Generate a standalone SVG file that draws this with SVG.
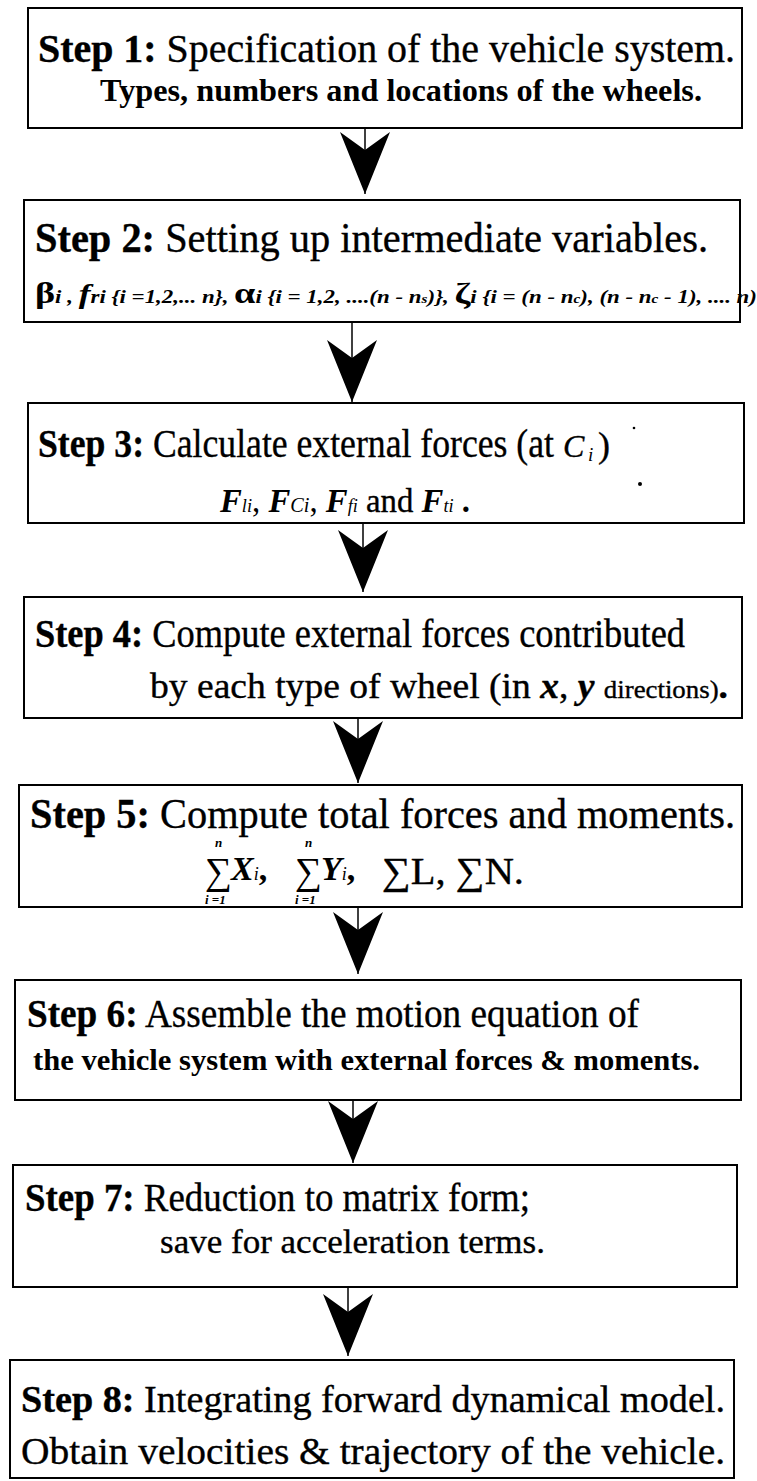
<svg xmlns="http://www.w3.org/2000/svg" width="757" height="1481" viewBox="0 0 757 1481">
<style>
.box{fill:#fff;stroke:#000;stroke-width:2}
text{font-family:"Liberation Serif","Times New Roman",Times,serif;fill:#000}
.b{font-weight:bold}
.it{font-style:italic}
.th{stroke:#000;stroke-width:0.35}
.conn line{stroke:#000;stroke-width:1.5}
</style>
<defs>
<marker id="ah" viewBox="-64 -27 66 54" markerWidth="66" markerHeight="54" refX="0" refY="0" markerUnits="userSpaceOnUse" orient="auto">
<path d="M0,0 L-62,-25 L-44,0 L-62,25 Z" fill="#000"/>
</marker>
</defs>
<rect width="757" height="1481" fill="#fff"/>

<g id="step1">
<rect class="box" x="28" y="8" width="714" height="120"/>
<text x="38" y="62" font-size="41" textLength="697" lengthAdjust="spacingAndGlyphs" class="th"><tspan class="b">Step 1:</tspan> Specification of the vehicle system.</text>
<text x="100" y="101" font-size="31" class="b" textLength="602" lengthAdjust="spacingAndGlyphs">Types, numbers and locations of the wheels.</text>
</g>

<g id="step2">
<rect class="box" x="24" y="200" width="716" height="122"/>
<text x="35" y="252" font-size="42" textLength="673" lengthAdjust="spacingAndGlyphs" class="th"><tspan class="b">Step 2:</tspan> Setting up intermediate variables.</text>
<text x="35" y="303" font-size="18" class="it b" textLength="722" lengthAdjust="spacingAndGlyphs"><tspan font-size="30" font-style="normal">β</tspan><tspan>i ,</tspan> <tspan font-size="28">f</tspan><tspan>ri {i =1,2,... n},</tspan> <tspan font-size="30" font-style="normal">α</tspan><tspan>i {i = 1,2, ....(n - n</tspan><tspan font-size="12">s</tspan><tspan>)},</tspan> <tspan font-size="30" font-style="normal">ζ</tspan><tspan>i {i = (n - n</tspan><tspan font-size="12">c</tspan><tspan>), (n - n</tspan><tspan font-size="12">c</tspan><tspan> - 1), .... n)</tspan></text>
</g>

<g id="step3">
<rect class="box" x="28" y="403" width="716" height="120"/>
<text x="38" y="457" font-size="40" textLength="516" lengthAdjust="spacingAndGlyphs" class="th"><tspan class="b">Step 3:</tspan> Calculate external forces (at</text>
<text x="563" y="457" font-size="32" class="it th">C</text>
<text x="588" y="461" font-size="19" class="it">i</text>
<text x="598" y="457" font-size="36" class="th">)</text>
<text x="220" y="512" font-size="34" textLength="250" lengthAdjust="spacingAndGlyphs"><tspan class="it b">F</tspan><tspan class="it" font-size="19">li</tspan>, <tspan class="it b">F</tspan><tspan class="it" font-size="21">Ci</tspan>, <tspan class="it b">F</tspan><tspan class="it" font-size="19">fi</tspan> <tspan class="th">and</tspan> <tspan class="it b">F</tspan><tspan class="it" font-size="19">ti</tspan> <tspan class="b">.</tspan></text>
<circle cx="634" cy="428" r="1.3" fill="#000"/>
<circle cx="640" cy="484" r="2" fill="#000"/>
</g>

<g id="step4">
<rect class="box" x="24" y="597" width="718" height="121"/>
<text x="35" y="647" font-size="39" textLength="650" lengthAdjust="spacingAndGlyphs" class="th"><tspan class="b">Step 4:</tspan> Compute external forces contributed</text>
<text x="150" y="698" font-size="35" textLength="578" lengthAdjust="spacingAndGlyphs" class="th">by each type of wheel (in <tspan class="it b">x</tspan>, <tspan class="it b">y</tspan> <tspan font-size="25">directions)</tspan><tspan class="b">.</tspan></text>
</g>

<g id="step5">
<rect class="box" x="19" y="785" width="723" height="122"/>
<text x="30" y="828" font-size="42" textLength="705" lengthAdjust="spacingAndGlyphs" class="th"><tspan class="b">Step 5:</tspan> Compute total forces and moments.</text>
<text x="215" y="847" font-size="13" class="it b">n</text>
<text x="205" y="884" font-size="38">∑</text>
<text x="205" y="904" font-size="13" class="it b">i =1</text>
<text x="231" y="880" font-size="34" class="it b">X<tspan font-size="18" font-weight="normal">i</tspan><tspan font-style="normal">,</tspan></text>
<text x="305" y="847" font-size="13" class="it b">n</text>
<text x="295" y="884" font-size="38">∑</text>
<text x="295" y="904" font-size="13" class="it b">i =1</text>
<text x="321" y="880" font-size="34" class="it b">Y<tspan font-size="18" font-weight="normal">i</tspan><tspan font-style="normal">,</tspan></text>
<text x="382" y="884" font-size="38" textLength="142" lengthAdjust="spacingAndGlyphs" class="th">∑L, ∑N.</text>
</g>

<g id="step6">
<rect class="box" x="15" y="980" width="726" height="120"/>
<text x="27" y="1027" font-size="40" textLength="612" lengthAdjust="spacingAndGlyphs" class="th"><tspan class="b">Step 6:</tspan> Assemble the motion equation of</text>
<text x="33" y="1070" font-size="29" class="b" textLength="667" lengthAdjust="spacingAndGlyphs">the vehicle system with external forces &amp; moments.</text>
</g>

<g id="step7">
<rect class="box" x="13" y="1165" width="724" height="122"/>
<text x="25" y="1211" font-size="40" textLength="505" lengthAdjust="spacingAndGlyphs" class="th"><tspan class="b">Step 7:</tspan> Reduction to matrix form;</text>
<text x="160" y="1253" font-size="34" textLength="385" lengthAdjust="spacingAndGlyphs" class="th">save for acceleration terms.</text>
</g>

<g id="step8">
<rect class="box" x="10" y="1360" width="724" height="118"/>
<text x="21" y="1412" font-size="37" textLength="704" lengthAdjust="spacingAndGlyphs" class="th"><tspan class="b">Step 8:</tspan> Integrating forward dynamical model.</text>
<text x="21" y="1464" font-size="38" textLength="704" lengthAdjust="spacingAndGlyphs" class="th">Obtain velocities &amp; trajectory of the vehicle.</text>
</g>

<g id="connectors" class="conn">
<line x1="365" y1="128" x2="365" y2="194" marker-end="url(#ah)"/>
<line x1="352" y1="322" x2="352" y2="402" marker-end="url(#ah)"/>
<line x1="363" y1="523" x2="363" y2="592" marker-end="url(#ah)"/>
<line x1="358" y1="718" x2="358" y2="783" marker-end="url(#ah)"/>
<line x1="358" y1="907" x2="358" y2="974" marker-end="url(#ah)"/>
<line x1="353" y1="1100" x2="353" y2="1163" marker-end="url(#ah)"/>
<line x1="348" y1="1287" x2="348" y2="1356" marker-end="url(#ah)"/>
</g>
</svg>
